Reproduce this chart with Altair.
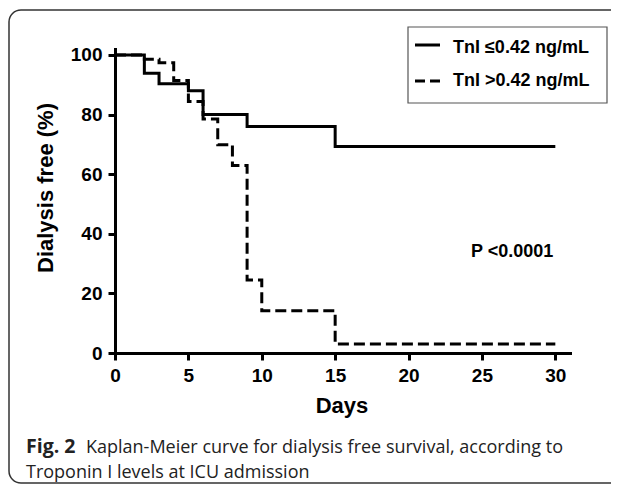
import altair as alt
import pandas as pd

# ---- data ----
low_days = [0, 2, 3, 5, 6, 9, 15, 30]
low_surv = [100, 93.9, 90.3, 88.0, 80.0, 76.0, 69.3, 69.3]

high_days = [0, 2, 3, 4, 5, 6, 7, 8, 9, 10, 15, 30]
high_surv = [100, 98.6, 97.4, 91.4, 84.4, 78.5, 69.9, 62.9, 24.5, 14.2, 3.0, 3.0]

x_ticks = [0, 5, 10, 15, 20, 25, 30]
y_ticks = [0, 20, 40, 60, 80, 100]

legend_labels = ["TnI \u22640.42 ng/mL", "TnI >0.42 ng/mL"]
p_text = "P <0.0001"
x_title = "Days"
y_title = "Dialysis free (%)"
cap_bold = "Fig. 2"
cap_line1 = "Kaplan-Meier curve for dialysis free survival, according to"
cap_line2 = "Troponin I levels at ICU admission"

FONT = "Liberation Sans"
CAPFONT = "Open Sans"

df_low = pd.DataFrame({"day": low_days, "surv": low_surv})
df_high = pd.DataFrame({"day": high_days, "surv": high_surv})

W, H = 455, 304
xs = alt.Scale(domain=[0, 31], nice=False, zero=False)
ys = alt.Scale(domain=[0, 102], nice=False)

x_axis = alt.Axis(values=x_ticks, title=None, format="d")
y_axis = alt.Axis(values=y_ticks, title=None, format="d")

line_low = alt.Chart(df_low).mark_line(
    interpolate="step-after", color="black", strokeWidth=3, strokeCap="butt"
).encode(
    x=alt.X("day:Q", scale=xs, axis=x_axis),
    y=alt.Y("surv:Q", scale=ys, axis=y_axis),
)

line_high = alt.Chart(df_high).mark_line(
    interpolate="step-after", color="black", strokeWidth=3, strokeDash=[11, 5], strokeCap="butt"
).encode(
    x=alt.X("day:Q", scale=xs),
    y=alt.Y("surv:Q", scale=ys),
)

one = pd.DataFrame({"k": [0]})

def txt(s, x, y, size, weight="bold", font=FONT, align="left", angle=0, color="black"):
    d = pd.DataFrame({"t": [s]})
    kw = dict(align=align, baseline="alphabetic", fontSize=size, fontWeight=weight,
              font=font, color=color)
    if angle:
        kw["angle"] = angle
    return alt.Chart(d).mark_text(**kw).encode(
        x=alt.value(x), y=alt.value(y), text="t:N"
    )

border = alt.Chart(one).mark_rect(
    fill="white", fillOpacity=0, stroke="#333", strokeWidth=1.5, cornerRadius=12
).encode(x=alt.value(-106), x2=alt.value(540), y=alt.value(-39), y2=alt.value(434))

legend_box = alt.Chart(one).mark_rect(
    fill="white", fillOpacity=0, stroke="#555", strokeWidth=1.2
).encode(x=alt.value(293), x2=alt.value(492), y=alt.value(-22), y2=alt.value(54))

leg_solid = alt.Chart(one).mark_rule(color="black", strokeWidth=3).encode(
    x=alt.value(300), x2=alt.value(325), y=alt.value(-4)
)
leg_dash = alt.Chart(one).mark_rule(color="black", strokeWidth=3, strokeDash=[10, 5]).encode(
    x=alt.value(300), x2=alt.value(325), y=alt.value(32)
)

layers = [
    border,
    line_low,
    line_high,
    legend_box,
    leg_solid,
    leg_dash,
    txt(legend_labels[0], 338, 4, 18),
    txt(legend_labels[1], 338, 37, 18),
    txt(p_text, 356, 208, 18),
    txt(x_title, 227, 364, 22, align="center"),
    txt(y_title, -62, 139, 22, align="center", angle=270),
    txt(cap_bold, -89, 404, 19.5, weight="bold", font=CAPFONT, color="#222"),
    txt(cap_line1, -29, 404, 18, weight="normal", font=CAPFONT, color="#222"),
    txt(cap_line2, -89, 428.5, 18, weight="normal", font=CAPFONT, color="#222"),
]

chart = alt.layer(*layers).properties(
    width=W, height=H,
    padding={"left": 107, "top": 41, "right": 41, "bottom": 131},
    autosize=alt.AutoSizeParams(type="none"),
    background="white",
).configure_view(stroke=None).configure_axis(
    domainColor="black", domainWidth=3, domainCap="square",
    tickColor="black", tickWidth=3, tickSize=7,
    labelFont=FONT, labelFontSize=19, labelFontWeight="bold", labelColor="black",
    labelPadding=6, grid=False, labelOverlap=False, labelFlush=False,
)

chart.save("out.html", embed_options={"renderer": "svg", "actions": False})
